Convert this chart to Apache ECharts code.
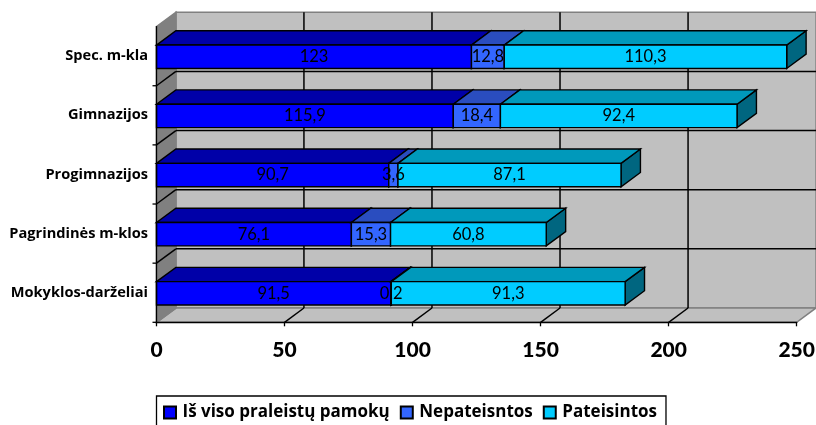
<!DOCTYPE html>
<html><head><meta charset="utf-8">
<style>html,body{margin:0;padding:0;background:#fff;overflow:hidden}#c{width:816px;height:425px}</style>
<script src="https://cdn.jsdelivr.net/npm/echarts@6/dist/echarts.min.js"></script>
</head><body><div id="c"></div>
<script>
const categories = ['Mokyklos-darželiai','Pagrindinės m-klos','Progimnazijos','Gimnazijos','Spec. m-kla'];
const seriesNames = ['Iš viso praleistų pamokų','Nepateisntos','Pateisintos'];
const total = [91.5,76.1,90.7,115.9,123];
const unexcused = [0.2,15.3,3.6,18.4,12.8];
const excused = [91.3,60.8,87.1,92.4,110.3];
const xTicks = [0,50,100,150,200,250];
const DX = 19.4, DY = 14.3, BARH = 23.4, LIFT = 0.6;
const palettes = [
  {front:'#0000FF',top:'#0000A8',side:'#000080'},
  {front:'#3366FF',top:'#2A4DBF',side:'#1F3A80'},
  {front:'#00CCFF',top:'#0099BB',side:'#006680'}
];
const all = [total,unexcused,excused];
function poly(pts,fill,stroke,z2,lw){
  return {type:'polygon',z2:z2,shape:{points:pts},style:{fill:fill,stroke:stroke,lineWidth:lw||1}};
}
function line(a,b,stroke,z2,lw){
  return {type:'line',z2:z2,shape:{x1:a[0],y1:a[1],x2:b[0],y2:b[1]},style:{stroke:stroke,lineWidth:lw||1.5}};
}
function renderWalls(params,api){
  const band = api.size([0,1])[1];
  const c0 = api.coord([0,0]), cN = api.coord([0,categories.length-1]);
  const xR = api.coord([xTicks[xTicks.length-1],0])[0];
  const xL = c0[0], yB = c0[1]+band/2, yT = cN[1]-band/2;
  const ch = [];
  const gray='#808080';
  ch.push(poly([[xL+DX,yB-DY],[xR+DX,yB-DY],[xR+DX,yT-DY],[xL+DX,yT-DY]],'#C0C0C0',gray,1,1.6));
  ch.push(poly([[xL,yB],[xR,yB],[xR+DX,yB-DY],[xL+DX,yB-DY]],'#C0C0C0',gray,1,1.6));
  ch.push(poly([[xL,yB],[xL+DX,yB-DY],[xL+DX,yT-DY],[xL,yT]],'#808080',gray,1,1.6));
  xTicks.slice(1,-1).forEach(v=>{
    const x=api.coord([v,0])[0];
    ch.push(line([x,yB],[x+DX,yB-DY],'#000',2));
    ch.push(line([x+DX,yB-DY],[x+DX,yT-DY],'#000',2));
  });
  for(let i=0;i<categories.length;i++){
    const y=yB-band*i;
    ch.push(line([xL-4,y],[xL,y],'#000',2,1.3));
    if(i>0){
      ch.push(line([xL,y],[xL+DX,y-DY],'#000',2));
      ch.push(line([xL+DX,y-DY],[xR+DX,y-DY],'#000',2));
    }
  }
  return {type:'group',children:ch};
}
function renderBar(si){
  return function(params,api){
    const cat = api.value(2);
    const a = api.coord([api.value(0),cat]), b = api.coord([api.value(1),cat]);
    const yc = a[1]+LIFT, t = yc-BARH/2, bt = yc+BARH/2;
    const p = palettes[si], z = 10+si;
    return {type:'group',children:[
      poly([[b[0],t],[b[0]+DX,t-DY],[b[0]+DX,bt-DY],[b[0],bt]],p.side,'#000',z,1.4),
      poly([[a[0],t],[b[0],t],[b[0]+DX,t-DY],[a[0]+DX,t-DY]],p.top,'#000',z,1.4),
      poly([[a[0],t],[b[0],t],[b[0],bt],[a[0],bt]],p.front,'#000',z,1.4),
      {type:'text',z2:100,style:{x:(a[0]+b[0])/2,y:yc,text:String(all[si][params.dataIndex]).replace('.',','),
        align:'center',verticalAlign:'middle',fill:'#000',font:'16.5px Lato'}}
    ]};
  };
}
const barSeries = seriesNames.map((name,si)=>({
  type:'custom',name:name,coordinateSystem:'cartesian2d',z:3,
  itemStyle:{color:palettes[si].front,borderColor:'#000',borderWidth:1.2},
  renderItem:renderBar(si),clip:false,silent:true,
  encode:{x:[0,1],y:2},
  data:categories.map((c,i)=>{
    let s=0;for(let k=0;k<si;k++)s+=all[k][i];
    return [s,s+all[si][i],i];
  })
}));
const chart = echarts.init(document.getElementById('c'),null,{renderer:'canvas'});
chart.setOption({
  animation:false,
  backgroundColor:'#fff',
  grid:{left:156.5,right:19.3,top:26.6,bottom:102.7,containLabel:false,outerBoundsMode:'none'},
  xAxis:{type:'value',min:0,max:250,interval:50,z:5,
    splitLine:{show:false},
    axisLine:{show:true,lineStyle:{color:'#000',width:1.3}},
    axisTick:{show:true,length:4,lineStyle:{color:'#000',width:1.3}},
    axisLabel:{color:'#000',fontFamily:'Lato',fontWeight:900,fontSize:21,margin:17,
      formatter:v=>String(v)}},
  yAxis:{type:'category',data:categories,z:5,
    splitLine:{show:false},
    axisLine:{show:true,lineStyle:{color:'#000',width:1.3}},
    axisTick:{show:false},
    axisLabel:{color:'#000',fontFamily:'Open Sans',fontWeight:'bold',fontSize:14.6,margin:8.5}},
  legend:{show:true,left:156.5,top:396,data:seriesNames,
    backgroundColor:'#fff',borderColor:'#000',borderWidth:1.3,borderRadius:0,
    padding:[8,9,14,6.5],itemWidth:12,itemHeight:12,itemGap:10,icon:'rect',
    selectedMode:false,
    textStyle:{color:'#000',fontFamily:'Open Sans',fontWeight:'bold',fontSize:17,padding:[1,0,0,1.5]}},
  series:[{type:'custom',name:'walls',coordinateSystem:'cartesian2d',z:1,silent:true,clip:false,
    renderItem:renderWalls,data:[[0,0]],encode:{x:0,y:1}}].concat(barSeries)
});
</script></body></html>
